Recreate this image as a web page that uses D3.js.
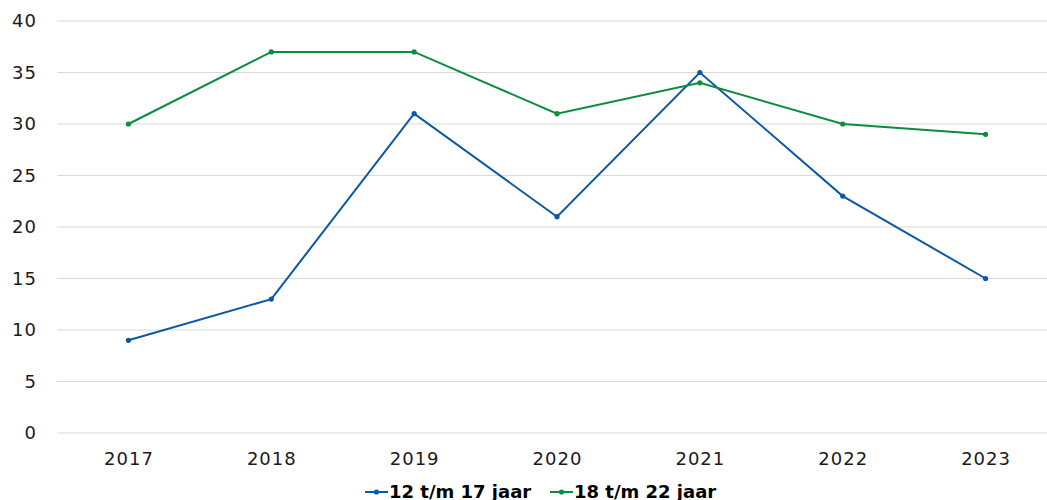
<!DOCTYPE html>
<html>
<head>
<meta charset="utf-8">
<script src="https://cdn.jsdelivr.net/npm/d3@7"></script>
<style>
  body { margin: 0; background: #fff; }
  svg { display: block; font-family: "DejaVu Sans", sans-serif; }
</style>
</head>
<body>
<div id="chart"></div>
<script>
// Line chart - two age groups, 2017-2023

const years = ['2017', '2018', '2019', '2020', '2021', '2022', '2023'];
const youngValues = [9, 13, 31, 21, 35, 23, 15];   // 12 t/m 17 jaar
const olderValues = [30, 37, 37, 31, 34, 30, 29];  // 18 t/m 22 jaar
const yTicks = [0, 5, 10, 15, 20, 25, 30, 35, 40];

const series = [
    { name: '12 t/m 17 jaar', values: youngValues, color: '#0b58a6' },
    { name: '18 t/m 22 jaar', values: olderValues, color: '#0a8d3e' }
];

const width = 1047, height = 500;

const svg = d3.select('#chart')
    .append('svg')
    .attr('width', width)
    .attr('height', height);

// Scales
const x = d3.scalePoint()
    .domain(years)
    .range([57, 1057])
    .padding(0.5);

const y = d3.scaleLinear()
    .domain([0, 40])
    .range([433, 21]);

// Gridlines
svg.append('g')
    .selectAll('line')
    .data(yTicks)
    .enter()
    .append('line')
    .attr('x1', 57)
    .attr('x2', width)
    .attr('y1', d => y(d))
    .attr('y2', d => y(d))
    .attr('stroke', '#d9d9d9')
    .attr('stroke-width', 1);

// Y axis labels
const yAxis = svg.append('g')
    .attr('transform', 'translate(37,0)')
    .call(d3.axisLeft(y).tickValues(yTicks).tickSize(0).tickPadding(0));
yAxis.select('.domain').remove();
yAxis.selectAll('text')
    .attr('font-size', '18px')
    .attr('letter-spacing', '1px')
    .attr('fill', '#1a1a1a')
    .attr('font-family', '"DejaVu Sans", sans-serif');

// X axis labels
const xAxis = svg.append('g')
    .attr('transform', 'translate(0,452)')
    .call(d3.axisBottom(x).tickSize(0).tickPadding(0));
xAxis.select('.domain').remove();
xAxis.selectAll('text')
    .attr('font-size', '18px')
    .attr('letter-spacing', '1px')
    .attr('fill', '#1a1a1a')
    .attr('font-family', '"DejaVu Sans", sans-serif');

// Lines
const line = d3.line()
    .x((d, i) => x(years[i]))
    .y(d => y(d));

series.forEach(s => {
    svg.append('path')
        .datum(s.values)
        .attr('d', line)
        .attr('fill', 'none')
        .attr('stroke', s.color)
        .attr('stroke-width', 2);

    svg.append('g')
        .selectAll('circle')
        .data(s.values)
        .enter()
        .append('circle')
        .attr('cx', (d, i) => x(years[i]))
        .attr('cy', d => y(d))
        .attr('r', 2.6)
        .attr('fill', s.color);
});

// Legend
const legend = svg.append('g')
    .attr('transform', 'translate(365,492)');

const legendX = [0, 185];
series.forEach((s, i) => {
    const g = legend.append('g')
        .attr('transform', `translate(${legendX[i]},0)`);
    g.append('line')
        .attr('x1', 0).attr('x2', 23)
        .attr('y1', 0).attr('y2', 0)
        .attr('stroke', s.color)
        .attr('stroke-width', 2);
    g.append('circle')
        .attr('cx', 11.5).attr('cy', 0).attr('r', 2.6)
        .attr('fill', s.color);
    g.append('text')
        .attr('x', 24)
        .attr('y', 6)
        .attr('font-size', '18px')
        .attr('font-weight', 'bold')
        .attr('fill', '#000')
        .text(s.name);
});
</script>
</body>
</html>
